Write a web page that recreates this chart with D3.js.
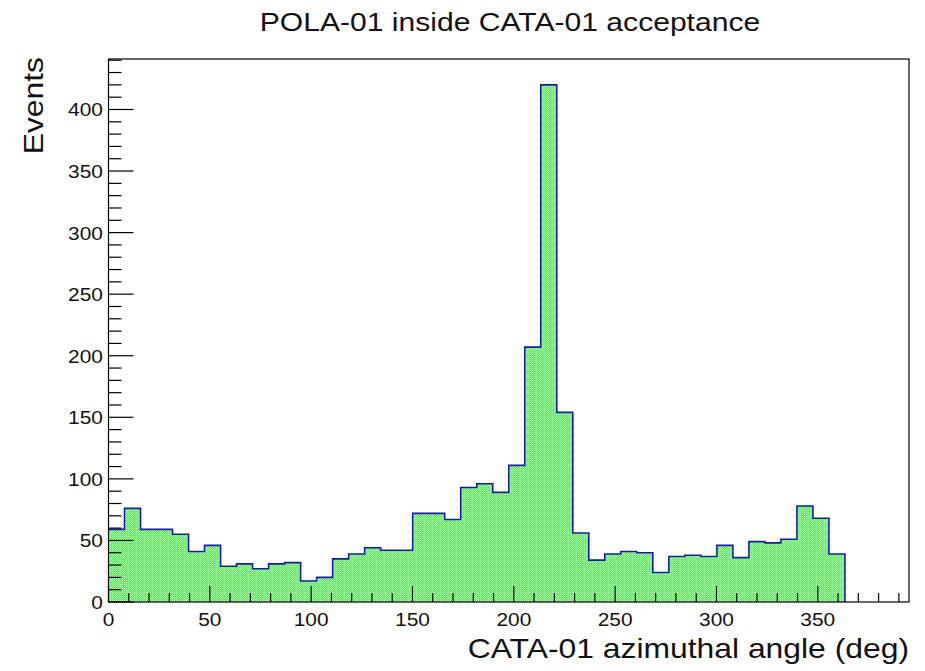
<!DOCTYPE html>
<html>
<head>
<meta charset="utf-8">
<script src="https://cdn.jsdelivr.net/npm/d3@7/dist/d3.min.js"></script>
<style>
  html, body { margin: 0; padding: 0; background: #fff; }
  svg { display: block; font-family: "Liberation Sans", Arial, Helvetica, sans-serif; }
</style>
</head>
<body>
<svg id="chart" width="925" height="671"></svg>
<script>
// ---- data ----
const title = "POLA-01 inside CATA-01 acceptance";
const xLabel = "CATA-01 azimuthal angle (deg)";
const yLabel = "Events";
const binLow = 0;
const binHigh = 395;
const nBins = 50;
const counts = [
  59, 76, 59, 59, 55, 41, 46, 29, 31, 27,
  31, 32, 17, 20, 35, 39, 44, 42, 42, 72,
  72, 67, 93, 96, 89, 111, 207, 420, 154, 56,
  34, 39, 41, 40, 24, 37, 38, 37, 46, 36,
  49, 48, 51, 78, 68, 39, 0, 0, 0, 0
];
const xTickValues = [0, 50, 100, 150, 200, 250, 300, 350];
const yTickValues = [0, 50, 100, 150, 200, 250, 300, 350, 400];
const yMax = 441;

// ---- layout ----
const svg = d3.select("#chart");
const L = 108.5, R = 909, T = 59, B = 602;
const x = d3.scaleLinear().domain([binLow, binHigh]).range([L, R]);
const y = d3.scaleLinear().domain([0, yMax]).range([B, T]);
const bw = (binHigh - binLow) / nBins;

function addText(g, tx, ty, str, size, anchor, sx) {
  const t = g.append("g").attr("transform", `translate(${tx},${ty}) scale(${sx},1)`);
  t.append("text").attr("x", 0).attr("y", 0).attr("text-anchor", anchor)
    .attr("font-size", size).attr("fill", "#111").text(str);
  return t;
}

// pattern
const defs = svg.append("defs");
const pat = defs.append("pattern").attr("id", "dots")
  .attr("patternUnits", "userSpaceOnUse").attr("width", 2).attr("height", 2);
pat.append("rect").attr("width", 2).attr("height", 2).attr("fill", "#4ef04e");
pat.append("rect").attr("x", 0).attr("y", 0).attr("width", 1).attr("height", 1).attr("fill", "#b8ffb8");
pat.append("rect").attr("x", 1).attr("y", 1).attr("width", 1).attr("height", 1).attr("fill", "#b8ffb8");

// histogram step path
const bins = counts.map((c, i) => ({ x0: binLow + i * bw, x1: binLow + (i + 1) * bw, v: c }));
let d = `M${x(bins[0].x0)},${y(0)}`;
bins.forEach(b => { d += `L${x(b.x0)},${y(b.v)}L${x(b.x1)},${y(b.v)}`; });
d += `L${x(bins[bins.length - 1].x1)},${y(0)}Z`;
svg.append("path").attr("d", d).attr("fill", "url(#dots)").attr("stroke", "none");

// outline (only non-empty part)
let lastNZ = counts.length - 1;
while (lastNZ > 0 && counts[lastNZ] === 0) lastNZ--;
let od = `M${x(bins[0].x0)},${y(bins[0].v)}`;
bins.slice(0, lastNZ + 1).forEach(b => { od += `L${x(b.x0)},${y(b.v)}L${x(b.x1)},${y(b.v)}`; });
od += `L${x(bins[lastNZ].x1)},${y(0)}`;
svg.append("path").attr("d", od).attr("fill", "none").attr("stroke", "#1a1aa0").attr("stroke-width", 1.6);

// frame
svg.append("rect").attr("x", L).attr("y", T).attr("width", R - L).attr("height", B - T)
  .attr("fill", "none").attr("stroke", "#000").attr("stroke-width", 1.2);

// x ticks
const xMinor = d3.range(0, binHigh, 10);
svg.append("g").selectAll("line").data(xMinor).join("line")
  .attr("x1", v => x(v)).attr("x2", v => x(v))
  .attr("y1", B).attr("y2", v => B - (v % 50 === 0 ? 16 : 9))
  .attr("stroke", "#000").attr("stroke-width", 1.2);
const gx = svg.append("g");
xTickValues.forEach(v => addText(gx, x(v), 626, v, 19, "middle", 1.1));

// y ticks
const yMinor = d3.range(0, yMax, 10);
svg.append("g").selectAll("line").data(yMinor).join("line")
  .attr("x1", L).attr("x2", v => L + (v % 50 === 0 ? 25 : 13))
  .attr("y1", v => y(v)).attr("y2", v => y(v))
  .attr("stroke", "#000").attr("stroke-width", 1.2);
const gy = svg.append("g");
yTickValues.forEach(v => addText(gy, 103, y(v) + 7, v, 19, "end", 1.1));

// title & labels
const gl = svg.append("g");
addText(gl, 510, 31, title, 25.5, "middle", 1.18);
addText(gl, R, 658, xLabel, 27, "end", 1.18);
const yl = gl.append("g").attr("transform", `translate(43,${T - 2}) rotate(-90) scale(1.18,1)`);
yl.append("text").attr("text-anchor", "end").attr("font-size", 27).attr("fill", "#111").text(yLabel);
</script>
</body>
</html>
